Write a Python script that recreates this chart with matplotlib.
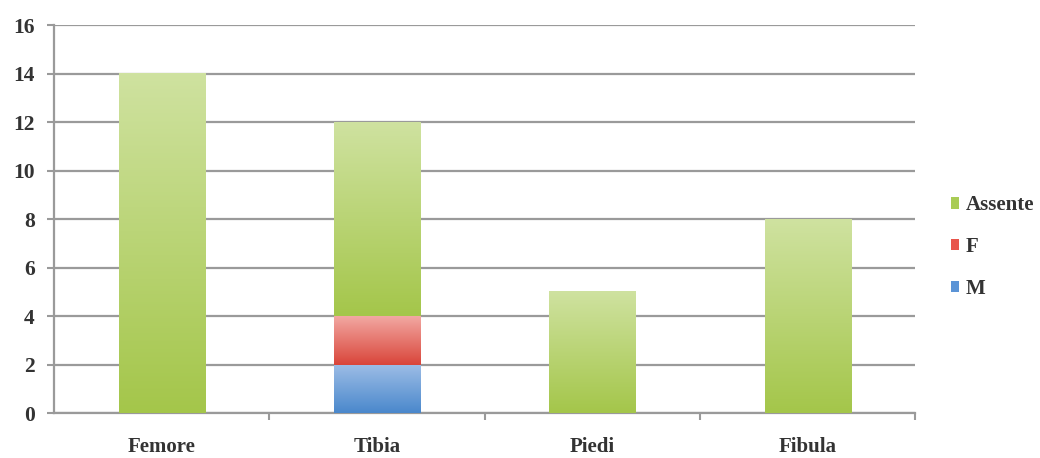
import numpy as np
import matplotlib
matplotlib.use("Agg")
import matplotlib.pyplot as plt
from matplotlib.colors import LinearSegmentedColormap
from matplotlib.patches import Patch

plt.rcParams["font.family"] = ["Liberation Serif", "DejaVu Serif"]
plt.rcParams["font.weight"] = "bold"

categories = ["Femore", "Tibia", "Piedi", "Fibula"]
m_vals = [0, 2, 0, 0]
f_vals = [0, 2, 0, 0]
assente_vals = [14, 8, 5, 8]
series = [("M", m_vals), ("F", f_vals), ("Assente", assente_vals)]

# (top colour, bottom colour) for the Excel-like vertical gradient
grads = {
    "Assente": ("#cfe2a0", "#a4c64a"),
    "F": ("#f2a8a2", "#d9453a"),
    "M": ("#9dbde6", "#4a88cc"),
}
legend_col = {"Assente": "#a9cc55", "F": "#e8554b", "M": "#5b94d6"}
txt_col = "#333333"

fig = plt.figure(figsize=(10.4, 4.58), dpi=100)
ax = fig.add_axes([0.052, 0.098, 0.828, 0.847])

width = 0.4
x = np.arange(len(categories))
bottom = np.zeros(len(categories))
grad = np.linspace(1, 0, 256).reshape(-1, 1)
for name, vals in series:
    cmap = LinearSegmentedColormap.from_list(name, [grads[name][1], grads[name][0]])
    for xi, b, v in zip(x, bottom, vals):
        if v <= 0:
            continue
        ax.imshow(grad, cmap=cmap, vmin=0, vmax=1, aspect="auto",
                  extent=(xi - width / 2, xi + width / 2, b, b + v), zorder=3)
    bottom += np.array(vals)

ax.set_xlim(-0.5, len(categories) - 0.5)
ax.set_ylim(0, 16)
ax.set_yticks(range(0, 17, 2))
ax.yaxis.grid(True, color="#9a9a9a", linewidth=1.6, zorder=1)
ax.set_axisbelow(True)

ax.set_xticks(x)
ax.set_xticklabels(categories, fontsize=15)
ax.set_xticks(np.arange(0.5, len(categories), 1), minor=True)
ax.tick_params(axis="x", which="major", length=0, pad=17)
ax.tick_params(axis="x", which="minor", length=5, color="#9a9a9a", width=1.5)
ax.tick_params(axis="y", length=5, color="#9a9a9a", width=1.5, labelsize=15.5, pad=9)
for lab in ax.get_yticklabels() + ax.get_xticklabels():
    lab.set_color(txt_col)

for s in ["top", "right"]:
    ax.spines[s].set_visible(False)
for s in ["left", "bottom"]:
    ax.spines[s].set_color("#9a9a9a")
    ax.spines[s].set_linewidth(1.6)

handles = [Patch(facecolor=legend_col[n], edgecolor="none") for n in ["Assente", "F", "M"]]
leg = fig.legend(handles, ["Assente", "F", "M"], loc="center left",
                 bbox_to_anchor=(0.896, 0.46), frameon=False, fontsize=15,
                 handlelength=0.42, handleheight=0.45, handletextpad=0.3, labelspacing=1.05)
for t in leg.get_texts():
    t.set_color(txt_col)

fig.savefig("out.png", dpi=100)
